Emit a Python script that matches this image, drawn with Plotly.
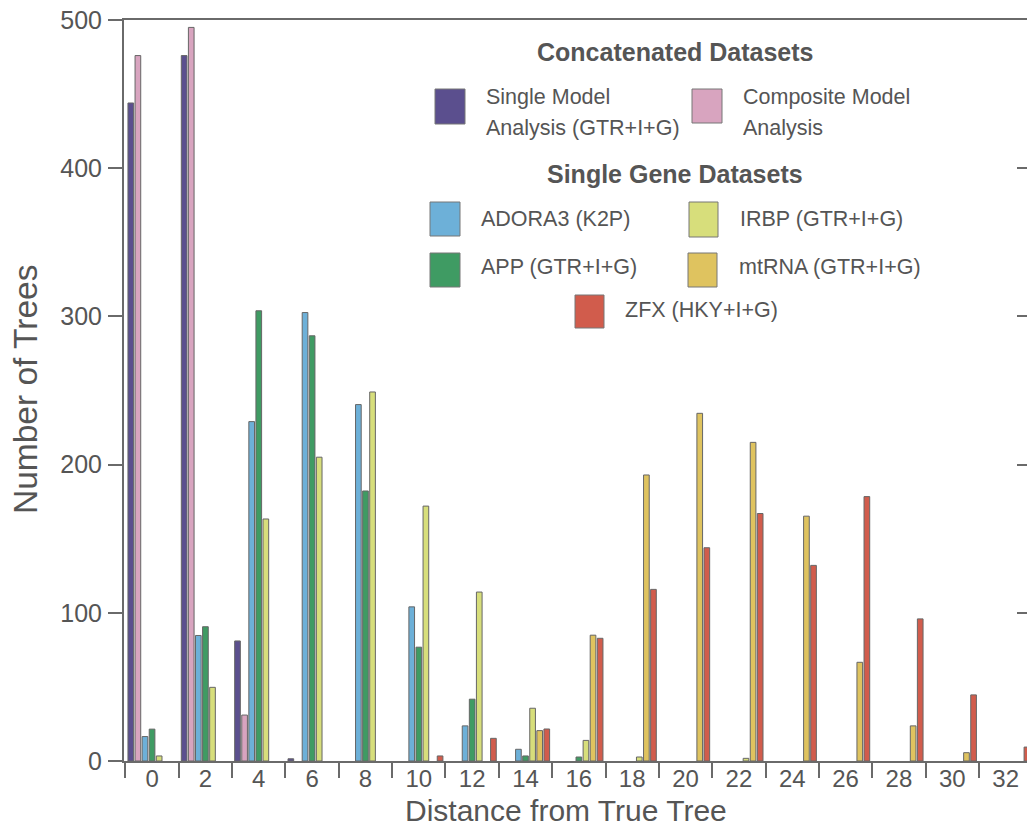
import plotly.graph_objects as go

distances = ["0", "2", "4", "6", "8", "10", "12", "14", "16", "18", "20", "22", "24", "26", "28", "30", "32"]

single_model = [444, 476, 81, 1.5, 0, 0, 0, 0, 0, 0, 0, 0, 0, 0, 0, 0, 0]
composite_model = [476, 495, 31, 0, 0, 0, 0, 0, 0, 0, 0, 0, 0, 0, 0, 0, 0]
adora3 = [16.5, 84.7, 229, 302.6, 240.5, 104, 23.7, 7.9, 0, 0, 0, 0, 0, 0, 0, 0, 0]
app = [21.5, 90.6, 303.8, 286.9, 182.2, 76.8, 41.7, 3.4, 2.7, 0, 0, 0, 0, 0, 0, 0, 0]
irbp = [3.4, 49.7, 163.3, 205, 249, 172, 114, 35.6, 13.9, 2.7, 0, 1.8, 0, 0, 0, 0, 0]
mtrna = [0, 0, 0, 0, 0, 0, 0, 20.5, 84.9, 193, 234.6, 215, 165.2, 66.6, 23.7, 5.6, 0]
zfx = [0, 0, 0, 0, 0, 3.4, 15.3, 21.6, 82.8, 115.8, 143.9, 167, 132, 178.4, 95.9, 44.6, 9.4]

series_names = ["Single Model Analysis (GTR+I+G)", "Composite Model Analysis", "ADORA3 (K2P)",
                "APP (GTR+I+G)", "IRBP (GTR+I+G)", "mtRNA (GTR+I+G)", "ZFX (HKY+I+G)"]
series_values = [single_model, composite_model, adora3, app, irbp, mtrna, zfx]
series_colors = ["#5b4f8e", "#d8a4bf", "#6db0d8", "#3f9b63", "#d7de7b", "#dfc35f", "#d15c4c"]

y_ticks = [0, 100, 200, 300, 400, 500]
right_ticks = [100, 200, 300, 400]

FONT = "Arial, Liberation Sans, sans-serif"
TXT = "#555555"
AX = "#6a6a6a"

W, H = 1027, 826
ML, MR, MT, MB = 124, 0, 20, 65
PW, PH = W - ML - MR, H - MT - MB


def px(x):
    return (x - ML) / PW


def py(y):
    return (H - MB - y) / PH


fig = go.Figure()
for name, vals, col in zip(series_names, series_values, series_colors):
    fig.add_trace(go.Bar(
        x=distances, y=vals, name=name,
        marker=dict(color=col, line=dict(color="#666666", width=[1 if v > 0 else 0 for v in vals])),
        showlegend=False,
    ))

# invisible helper trace so the right-hand tick axis is drawn
fig.add_trace(go.Scatter(x=[distances[0]], y=[0], yaxis="y2", mode="none",
                         showlegend=False, hoverinfo="skip"))

fig.update_layout(
    width=W, height=H,
    margin=dict(l=ML, r=MR, t=MT, b=MB, pad=0),
    paper_bgcolor="white", plot_bgcolor="white",
    barmode="group", bargap=0.07, bargroupgap=0.2,
    font=dict(family=FONT, color=TXT),
    xaxis=dict(
        type="category", categoryarray=distances, range=[-0.526, 16.40],
        tickson="boundaries", ticks="outside", ticklen=15, tickwidth=2, tickcolor=AX,
        showline=True, linecolor=AX, linewidth=2, mirror=True,
        showgrid=False, zeroline=False, automargin=False,
        tickfont=dict(size=24, color=TXT, family=FONT),
        ticklabelstandoff=-5,
    ),
    yaxis=dict(
        range=[0, 500], tickvals=y_ticks, ticks="outside", ticklen=14, tickwidth=2,
        tickcolor=AX, showline=True, linecolor=AX, linewidth=2, mirror=False,
        showgrid=False, zeroline=False, automargin=False,
        tickfont=dict(size=25, color=TXT, family=FONT),
        ticklabelstandoff=1, ticklabeloverflow="allow",
    ),
    yaxis2=dict(
        overlaying="y", side="right", anchor="x", range=[0, 500],
        tickvals=right_ticks, ticks="inside", ticklen=10, tickwidth=2,
        tickcolor=AX, showticklabels=False, showline=False, showgrid=False, zeroline=False,
        automargin=False,
    ),
)

annotations = [
    dict(text="Distance from True Tree", x=px(566), y=py(810), xref="paper", yref="paper",
         showarrow=False, xanchor="center", yanchor="middle", font=dict(size=30, color=TXT)),
    dict(text="Number of Trees", x=px(25), y=py(390), xref="paper", yref="paper",
         showarrow=False, xanchor="center", yanchor="middle", textangle=-90,
         font=dict(size=33.5, color=TXT)),
    dict(text="<b>Concatenated Datasets</b>", x=px(675), y=py(52), xref="paper", yref="paper",
         showarrow=False, xanchor="center", yanchor="middle", font=dict(size=25, color=TXT)),
    dict(text="<b>Single Gene Datasets</b>", x=px(675), y=py(174), xref="paper", yref="paper",
         showarrow=False, xanchor="center", yanchor="middle", font=dict(size=25, color=TXT)),
]

legend_text = [
    ("Single Model", 484, 97), ("Analysis (GTR+I+G)", 484, 128),
    ("Composite Model", 741, 97), ("Analysis", 741, 128),
    (series_names[2], 479, 219), (series_names[4], 738, 219),
    (series_names[3], 479, 267), (series_names[5], 737, 267),
    (series_names[6], 623, 310),
]
for t, x, y in legend_text:
    annotations.append(dict(text=t, x=px(x), y=py(y), xref="paper", yref="paper",
                            showarrow=False, xanchor="left", yanchor="middle",
                            font=dict(size=21.5, color=TXT)))

swatches = [
    (0, 435, 89, 465, 124), (1, 692, 89, 722, 123),
    (2, 430, 202, 460, 236), (4, 689, 202, 718, 237),
    (3, 430, 253, 460, 287), (5, 688, 253, 717, 287),
    (6, 575, 295, 604, 328),
]
shapes = []
for i, x0, y0, x1, y1 in swatches:
    shapes.append(dict(type="rect", xref="paper", yref="paper",
                       x0=px(x0), x1=px(x1), y0=py(y1), y1=py(y0),
                       fillcolor=series_colors[i], line=dict(color="#777777", width=1)))

fig.update_layout(annotations=annotations, shapes=shapes)
fig.write_html("out.html",
               config={"displayModeBar": False},
               post_script="document.body.style.margin='0';document.body.style.overflow='hidden';")
